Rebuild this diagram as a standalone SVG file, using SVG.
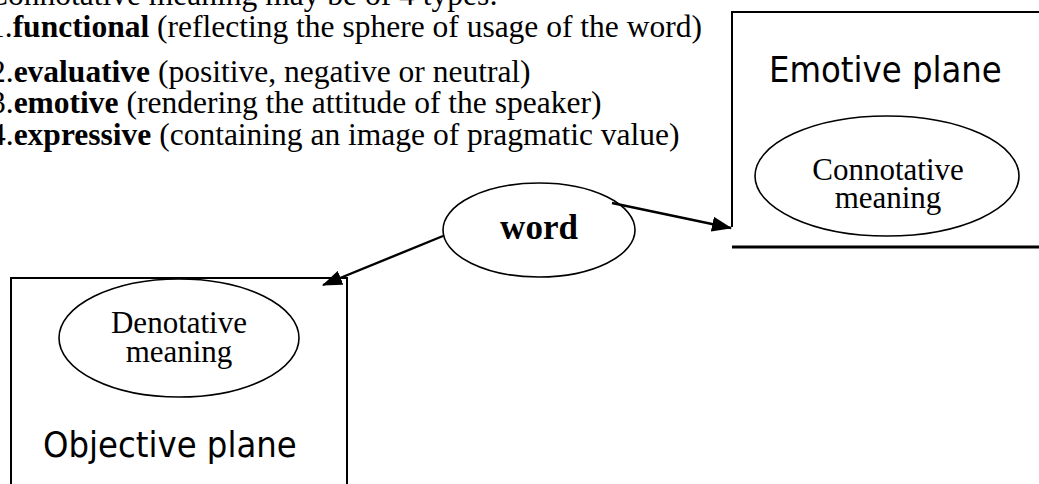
<svg xmlns="http://www.w3.org/2000/svg" width="1039" height="484" viewBox="0 0 1039 484">
<defs>
<style>
.t{font-family:"Liberation Serif","Times New Roman",serif;font-size:31.5px;fill:#000}
.b{font-weight:bold}
.lbl{font-family:"Liberation Serif","Times New Roman",serif;font-size:31px;fill:#000;text-anchor:middle}
.sans{font-family:"DejaVu Sans Condensed","DejaVu Sans",sans-serif;font-size:36px;fill:#000}
.ell{fill:none;stroke:#000;stroke-width:1.6}
.box{fill:none;stroke:#000;stroke-width:2}
.con{fill:none;stroke:#000;stroke-width:2.4}
</style>
<marker id="ah" markerWidth="20" markerHeight="15" refX="19" refY="7.5" orient="auto" markerUnits="userSpaceOnUse">
<path d="M0,0 L20,7.5 L0,15 Z" fill="#000"/>
</marker>
</defs>
<rect width="1039" height="484" fill="#fff"/>
<g id="types">
<text class="t" x="-13" y="5">Connotative meaning may be of 4 types:</text>
<text class="t" x="-11" y="37">1.<tspan class="b">functional</tspan> (reflecting the sphere of usage of the word)</text>
<text class="t" x="-10" y="82">2.<tspan class="b">evaluative</tspan> (positive, negative or neutral)</text>
<text class="t" x="-10" y="113">3.<tspan class="b">emotive</tspan> (rendering the attitude of the speaker)</text>
<text class="t" x="-10" y="145">4.<tspan class="b">expressive</tspan> (containing an image of pragmatic value)</text>
</g>
<g id="emotive-plane">
<path class="box" d="M1039,12 H732 V227"/>
<path d="M732,247 H1039" stroke="#000" stroke-width="3.2" fill="none"/>
<text class="sans" x="769" y="82">Emotive plane</text>
</g>
<g id="connotative">
<ellipse class="ell" cx="887" cy="176" rx="132" ry="60"/>
<text class="lbl" x="888" y="180">Connotative</text>
<text class="lbl" x="888" y="208">meaning</text>
</g>
<g id="word">
<ellipse class="ell" cx="539" cy="230" rx="96" ry="47"/>
<text class="lbl b" x="539" y="239" style="font-size:35px">word</text>
</g>
<g id="objective-plane">
<path class="box" d="M11,500 V278 H347 V500"/>
<text class="sans" x="43" y="457">Objective plane</text>
</g>
<g id="denotative">
<ellipse class="ell" cx="179" cy="338" rx="120" ry="59"/>
<text class="lbl" x="179" y="333">Denotative</text>
<text class="lbl" x="179" y="362">meaning</text>
</g>
<g id="connectors">
<line class="con" x1="612" y1="203" x2="731" y2="228" marker-end="url(#ah)"/>
<line class="con" x1="443" y1="236" x2="323" y2="285" marker-end="url(#ah)"/>
</g>
</svg>
